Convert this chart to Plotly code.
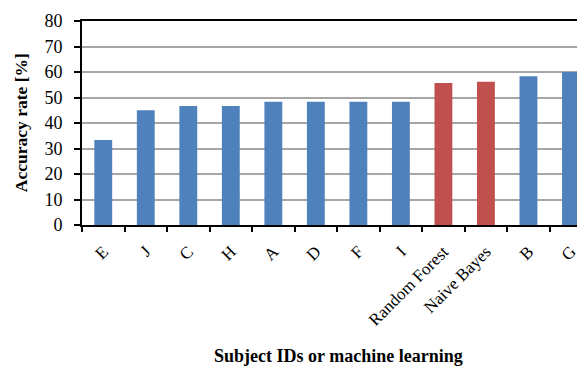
import plotly.graph_objects as go

categories = ["E", "J", "C", "H", "A", "D", "F", "I", "Random Forest", "Naive Bayes", "B", "G"]
accuracy = [33.3, 45.0, 46.7, 46.7, 48.3, 48.3, 48.3, 48.3, 55.7, 56.2, 58.3, 60.0]
kind = ["subject"] * 8 + ["ml"] * 2 + ["subject"] * 2

color_map = {"subject": "#4F81BD", "ml": "#C0504D"}
colors = [color_map[k] for k in kind]

fig = go.Figure(go.Bar(
    x=categories, y=accuracy, marker=dict(color=colors, line=dict(width=0)),
    width=0.42,
))

font_family = "Liberation Serif"
fig.update_layout(
    width=577, height=362,
    margin=dict(l=74, r=0, t=13, b=145, autoexpand=False),
    paper_bgcolor="white", plot_bgcolor="white",
    font=dict(family=font_family, color="black", size=17),
    showlegend=False,
    annotations=[
        dict(text="<b>Subject IDs or machine learning</b>", xref="paper", yref="paper",
             x=0.509, y=-0.64, xanchor="center", yanchor="middle", showarrow=False,
             font=dict(size=18)),
        dict(text="<b>Accuracy rate [%]</b>", xref="paper", yref="paper",
             x=-0.121, y=0.5, xanchor="center", yanchor="middle", showarrow=False,
             textangle=-90, font=dict(size=17.5)),
    ],
)
fig.update_xaxes(
    type="category", range=[-0.5, 11.33], automargin=False,
    showline=True, linecolor="black", linewidth=2, mirror=True,
    ticks="outside", tickson="boundaries", ticklen=5, tickcolor="black", tickwidth=1.5,
    tickangle=-45, tickfont=dict(size=17), ticklabelstandoff=8,
    showgrid=False,
)
fig.update_yaxes(
    range=[0, 80], dtick=10, automargin=False,
    showline=True, linecolor="black", linewidth=2,
    ticks="outside", ticklen=6, tickcolor="black", tickwidth=1.5,
    showgrid=True, gridcolor="#A6A6A6", gridwidth=1.5,
    zeroline=False,
    tickfont=dict(size=18), ticklabelstandoff=8,
)
fig.write_html("out.html")
